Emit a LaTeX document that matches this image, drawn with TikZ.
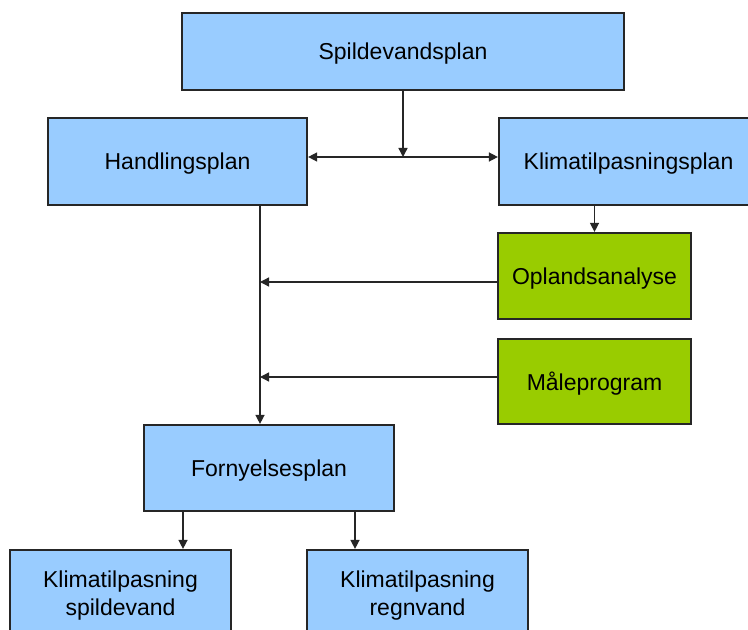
\documentclass[tikz,border=0pt]{standalone}
\usepackage{fontspec}
\setmainfont{Liberation Sans}
\usepackage{xcolor}
\usetikzlibrary{arrows.meta}

\definecolor{planblue}{HTML}{99CCFF}
\definecolor{workgreen}{HTML}{99CC00}

\begin{document}
\begin{tikzpicture}[
        x=0.5pt, y=-0.5pt,
        plan/.style={rectangle, draw=black!85, line width=1.1pt, fill=planblue, inner sep=0pt,
            text depth=0pt, align=center, font=\fontsize{11.5}{14}\selectfont},
        work/.style={plan, fill=workgreen},
        arrow/.style={-{Triangle[length=4.5pt,width=4.5pt]}, line width=0.7pt, draw=black!85}
    ]
        \useasboundingbox (0,0) rectangle (748,630);
        \fill[white] (0,0) rectangle (748,630);

        \node[plan, minimum width=221pt, minimum height=38.5pt] (SP) at (403,51.5) {Spildevandsplan};
        \node[plan, minimum width=129.5pt, minimum height=43.5pt] (HP) at (177.5,161.5) {Handlingsplan};
        \node[plan, minimum width=129.5pt, minimum height=43.5pt] (KP) at (628.5,161.5) {Klimatilpasningsplan};
        \node[work, minimum width=96.5pt, minimum height=43pt] (OA) at (594.5,276) {Oplandsanalyse};
        \node[work, minimum width=96.5pt, minimum height=42.5pt] (MP) at (594.5,381.5) {Måleprogram};
        \node[plan, minimum width=125pt, minimum height=43pt] (FP) at (269,468) {Fornyelsesplan};
        \node[plan, minimum width=110.5pt, minimum height=43pt] (KS) at (120.5,593) {Klimatilpasning\\spildevand};
        \node[plan, minimum width=110.5pt, minimum height=43pt] (KR) at (417.5,593) {Klimatilpasning\\regnvand};

        \coordinate (J) at (403,157);
        \coordinate (V) at (260,0);
        \coordinate (A1) at (260,282);
        \coordinate (A2) at (260,377);

        \draw[arrow] (SP.south) -- (J);
        \draw[arrow] (J) -- (HP.east |- J);
        \draw[arrow] (J) -- (KP.west |- J);
        \draw[arrow] (OA.north |- KP.south) -- (OA.north);
        \draw[arrow] (V |- HP.south) -- (V |- FP.north);
        \draw[arrow] (OA.west |- A1) -- (A1);
        \draw[arrow] (MP.west |- A2) -- (A2);
        \draw[arrow] ([xshift=-43pt]FP.south) -- ([xshift=-43pt]FP.south |- KS.north);
        \draw[arrow] ([xshift=43pt]FP.south) -- ([xshift=43pt]FP.south |- KR.north);
    \end{tikzpicture}
\end{document}
